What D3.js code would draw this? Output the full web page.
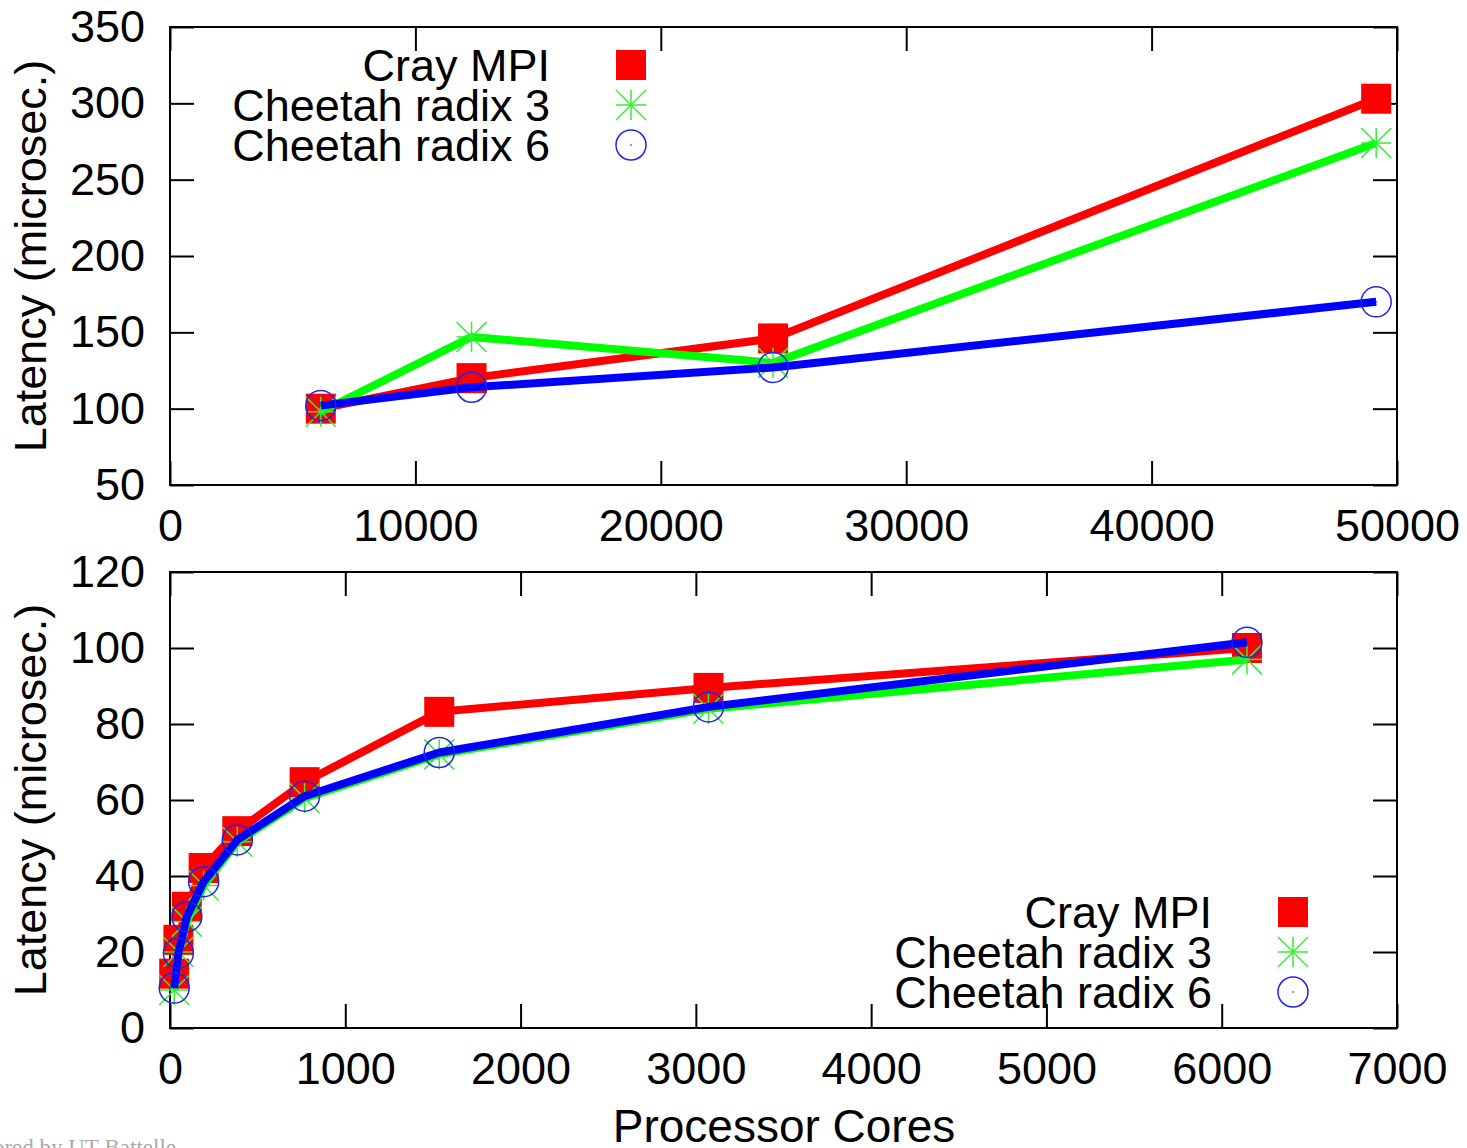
<!DOCTYPE html>
<html>
<head>
<meta charset="utf-8">
<script src="https://cdn.jsdelivr.net/npm/d3@7"></script>
<style>
  html, body { margin: 0; padding: 0; background: #fff; }
  svg { display: block; font-family: "Liberation Sans", Arial, Helvetica, sans-serif; }
</style>
</head>
<body>
<svg id="chart" width="1467" height="1148"></svg>
<script>
// Latency vs. processor cores: large-scale runs (top) and small-scale runs (bottom)
const seriesNames = ["Cray MPI", "Cheetah radix 3", "Cheetah radix 6"];

const coresTop = [6144, 12288, 24576, 49152];
const crayTop = [100, 120, 146, 303];
const radix3Top = [98, 147, 130, 274];
const radix6Top = [102, 114, 127, 170];

const coresBottom = [24, 48, 96, 192, 384, 768, 1536, 3072, 6144];
const crayBottom = [14.3, 23.2, 31.9, 42.1, 51.8, 64.7, 83.2, 89.5, 100];
const radix3Bottom = [10, 20, 28, 37.5, 49, 60.5, 72, 84, 97];
const radix6Bottom = [10.5, 19.7, 29.3, 38.5, 49.5, 61, 72.5, 84.5, 101.5];

const xTicksTop = [0, 10000, 20000, 30000, 40000, 50000];
const yTicksTop = [50, 100, 150, 200, 250, 300, 350];
const xTicksBottom = [0, 1000, 2000, 3000, 4000, 5000, 6000, 7000];
const yTicksBottom = [0, 20, 40, 60, 80, 100, 120];

const yTitle = "Latency (microsec.)";
const xTitle = "Processor Cores";
const credit = "Authored by UT-Battelle";

const colors = ["#ff0000", "#00ff00", "#0000ff"];
const svg = d3.select("#chart");
const FS = 45;

function drawPanel(cfg) {
  const { left, right, top, bottom } = cfg;
  const x = d3.scaleLinear().domain(cfg.xDomain).range([left, right]);
  const y = d3.scaleLinear().domain(cfg.yDomain).range([bottom, top]);
  const g = svg.append("g");

  const tick = 24;
  const styleAxis = (sel, showLabels) => {
    sel.select(".domain").remove();
    sel.selectAll(".tick line").attr("stroke", "#000").attr("stroke-width", 2);
    sel.selectAll(".tick text")
      .attr("fill", "#000")
      .style("font-size", FS + "px")
      .style("font-family", "'Liberation Sans', Arial, Helvetica, sans-serif");
    if (!showLabels) sel.selectAll(".tick text").remove();
  };

  g.append("g").attr("transform", `translate(0,${bottom})`)
    .call(d3.axisBottom(x).tickValues(cfg.xTicks).tickFormat(d3.format("d")).tickSize(-tick).tickPadding(24))
    .call(s => styleAxis(s, true));
  g.append("g").attr("transform", `translate(0,${top})`)
    .call(d3.axisTop(x).tickValues(cfg.xTicks).tickSize(-tick))
    .call(s => styleAxis(s, false));
  g.append("g").attr("transform", `translate(${left},0)`)
    .call(d3.axisLeft(y).tickValues(cfg.yTicks).tickFormat(d3.format("d")).tickSize(-tick).tickPadding(25))
    .call(s => styleAxis(s, true));
  g.append("g").attr("transform", `translate(${right},0)`)
    .call(d3.axisRight(y).tickValues(cfg.yTicks).tickSize(-tick))
    .call(s => styleAxis(s, false));

  g.append("rect")
    .attr("x", left).attr("y", top)
    .attr("width", right - left).attr("height", bottom - top)
    .attr("fill", "none").attr("stroke", "#000").attr("stroke-width", 2);

  // y title
  g.append("text")
    .attr("transform", `translate(46,${(top + bottom) / 2}) rotate(-90)`)
    .attr("text-anchor", "middle")
    .style("font-size", FS + "px")
    .text(yTitle);

  // series: line first, then markers, one series after another
  const line = d3.line().x(d => x(d[0])).y(d => y(d[1]));
  cfg.series.forEach((vals, i) => {
    const pts = cfg.xs.map((c, k) => [c, vals[k]]);
    const sg = g.append("g");
    sg.append("path").datum(pts)
      .attr("d", line)
      .attr("fill", "none")
      .attr("stroke", colors[i])
      .attr("stroke-width", 8)
      .attr("stroke-linejoin", "round");
    pts.forEach(p => drawMarker(sg, i, x(p[0]), y(p[1])));
  });

  // legend
  const lg = g.append("g");
  seriesNames.forEach((name, i) => {
    const cy = cfg.legendY + i * 40;
    lg.append("text")
      .attr("x", cfg.legendTextX).attr("y", cy + 16)
      .attr("text-anchor", "end")
      .style("font-size", FS + "px")
      .text(name);
    drawMarker(lg, i, cfg.legendSymX, cy);
  });
  return { x, y };
}

function drawMarker(sel, i, cx, cy) {
  if (i === 0) {
    sel.append("rect")
      .attr("x", cx - 15).attr("y", cy - 15)
      .attr("width", 30).attr("height", 30)
      .attr("fill", colors[0]);
  } else if (i === 1) {
    const r = 15;
    const segs = [[-r, 0, r, 0], [0, -r, 0, r], [-r, -r, r, r], [-r, r, r, -r]];
    segs.forEach(s => sel.append("line")
      .attr("x1", cx + s[0]).attr("y1", cy + s[1])
      .attr("x2", cx + s[2]).attr("y2", cy + s[3])
      .attr("stroke", "#33ee33").attr("stroke-width", 1.5));
  } else {
    sel.append("circle")
      .attr("cx", cx).attr("cy", cy).attr("r", 15)
      .attr("fill", "none").attr("stroke", "#2222ee").attr("stroke-width", 1.5);
    sel.append("rect")
      .attr("x", cx - 1).attr("y", cy - 0.5).attr("width", 2).attr("height", 1)
      .attr("fill", "#2222ee");
  }
}

drawPanel({
  left: 170, right: 1397, top: 27, bottom: 485,
  xDomain: [0, 50000], yDomain: [50, 350],
  xTicks: xTicksTop, yTicks: yTicksTop,
  xs: coresTop, series: [crayTop, radix3Top, radix6Top],
  legendTextX: 550, legendSymX: 631, legendY: 65
});

drawPanel({
  left: 170, right: 1397, top: 572, bottom: 1028,
  xDomain: [0, 7000], yDomain: [0, 120],
  xTicks: xTicksBottom, yTicks: yTicksBottom,
  xs: coresBottom, series: [crayBottom, radix3Bottom, radix6Bottom],
  legendTextX: 1212, legendSymX: 1293, legendY: 912
});

svg.append("text")
  .attr("x", 784).attr("y", 1142)
  .attr("text-anchor", "middle")
  .style("font-size", "46px")
  .text(xTitle);

svg.append("text")
  .attr("x", 176).attr("y", 1155)
  .attr("text-anchor", "end")
  .attr("fill", "#aaaaaa")
  .style("font-family", "'Liberation Serif', 'Times New Roman', serif")
  .style("font-size", "23px")
  .text(credit);
</script>
</body>
</html>
